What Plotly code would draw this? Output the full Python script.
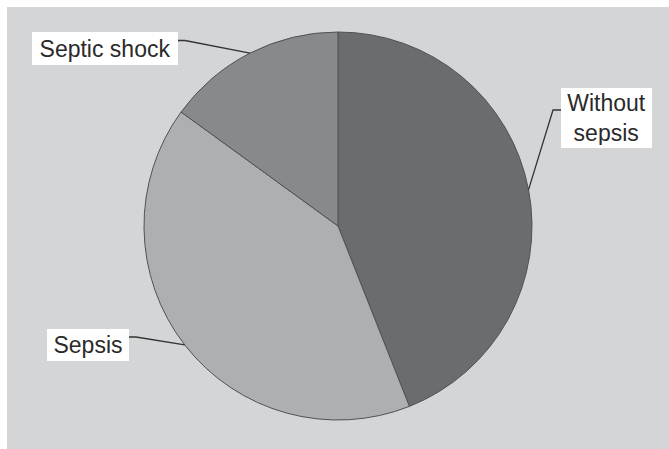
import math
import plotly.graph_objects as go

# Share of patients by outcome (percent), clockwise from 12 o'clock
labels = ["Without sepsis", "Sepsis", "Septic shock"]
values = [44, 41, 15]
slice_colors = ["#6b6c70", "#adb0b3", "#88898c"]
label_text = ["Without<br>sepsis", "Sepsis", "Septic shock"]

W, H = 669, 449
CX, CY, R = 338, 226, 194  # pie centre and radius in pixels

# label box centres and box sizes (pixels), and the side the leader leaves from
label_pos = [(606.5, 118), (88, 345), (105, 48.5)]
label_box = [(91, 60), (82, 32), (146, 33)]
label_side = ["left", "right", "right"]
PAD = 3


def px(x):
    return x / W


def py(y):
    return 1 - y / H


fig = go.Figure()

fig.add_trace(go.Pie(
    labels=labels,
    values=values,
    sort=False,
    direction="clockwise",
    rotation=0,
    textinfo="none",
    hoverinfo="label+percent",
    marker=dict(colors=slice_colors, line=dict(color="#505154", width=1)),
    domain=dict(x=[px(CX - R), px(CX + R)], y=[py(CY + R), py(CY - R)]),
    showlegend=False,
))

shapes = [dict(type="rect", xref="paper", yref="paper",
               x0=px(7), x1=1, y0=0, y1=py(7),
               fillcolor="#d4d5d7", line=dict(width=0), layer="below")]

annotations = []
total = sum(values)
start = 0.0
for i, v in enumerate(values):
    # leader ends on the rim at the middle of the slice
    mid = (start + v / 2) / total * 2 * math.pi
    start += v
    ex = CX + R * math.sin(mid)
    ey = CY - R * math.cos(mid)
    bx, by = label_pos[i]
    bw, bh = label_box[i]
    if label_side[i] == "right":
        sx = bx + bw / 2
        kx = sx + 7
    else:
        sx = bx - bw / 2
        kx = sx - 8
    sy = by - 8
    path = f"M {px(sx)},{py(sy)} L {px(kx)},{py(sy)} L {px(ex)},{py(ey)}"
    shapes.append(dict(type="path", xref="paper", yref="paper", path=path,
                       line=dict(color="#333333", width=1.3)))
    annotations.append(dict(
        x=px(bx), y=py(by), xref="paper", yref="paper",
        text=label_text[i], showarrow=False,
        font=dict(family="Liberation Sans, Arial, sans-serif", size=23, color="#2a2a2a"),
        bgcolor="#ffffff", borderpad=PAD, borderwidth=0,
        width=bw - 2 * PAD, height=bh - 2 * PAD,
        xanchor="center", yanchor="middle", align="center", valign="middle",
    ))

fig.update_layout(
    width=W, height=H,
    margin=dict(l=0, r=0, t=0, b=0),
    paper_bgcolor="#ffffff",
    shapes=shapes,
    annotations=annotations,
)

fig.write_html("out.html")
